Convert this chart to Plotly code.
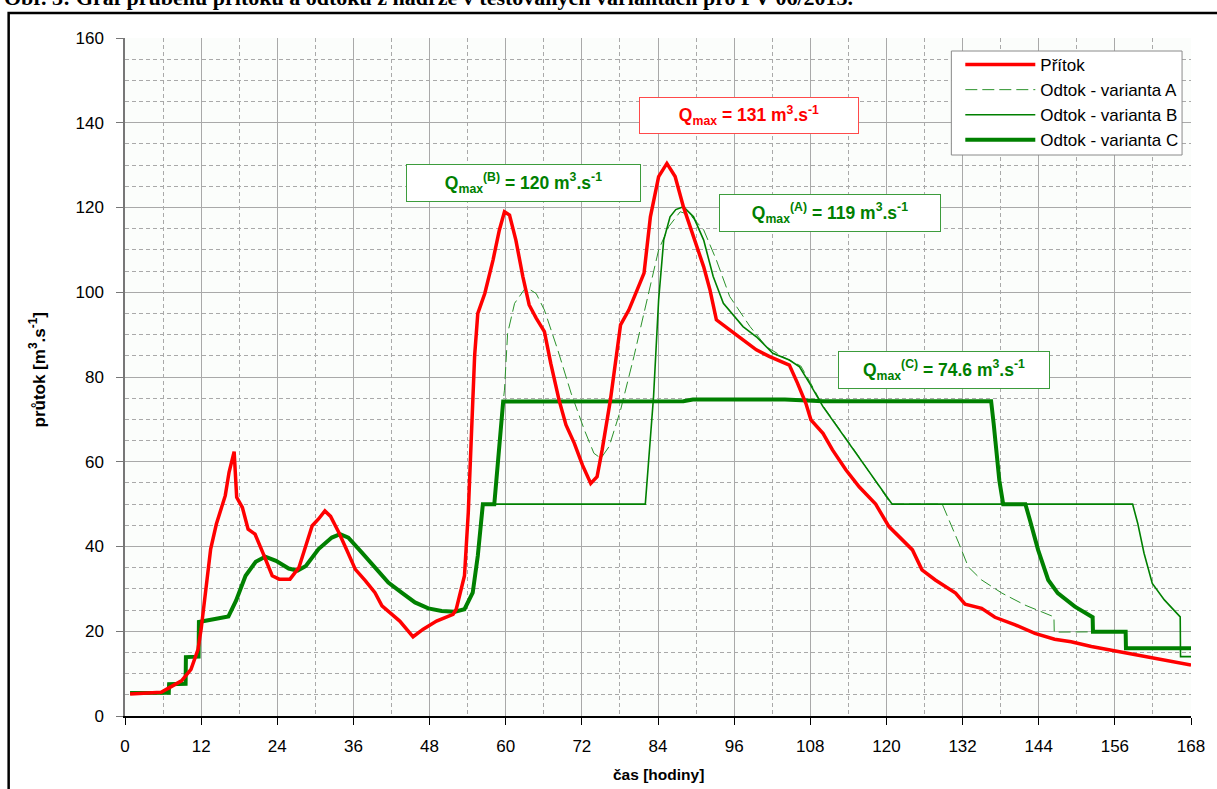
import plotly.graph_objects as go

# ---------------- data ----------------
# common outflow (all variants identical before ~56 h)
t_common = [0.8, 6.9, 6.95, 9.55, 9.6, 11.6, 11.65, 13.8, 16.3, 17.5, 19.0, 20.6, 22.1, 23.8, 25.8,
            27.2, 28.5, 30.5, 32.6, 33.9, 35.2, 37.3, 39.4, 41.5, 43.6, 45.7, 47.8, 49.9, 52.0,
            53.5, 54.8, 55.6, 56.4, 58.2]
q_common = [5.4, 5.5, 7.5, 7.6, 13.9, 14.0, 22.2, 22.7, 23.5, 27.2, 33.1, 36.4, 37.6, 36.6, 34.8,
            34.3, 35.4, 39.4, 42.1, 42.9, 42.1, 38.6, 35.0, 31.5, 29.1, 26.8, 25.4, 24.8, 24.6,
            25.2, 29.1, 37.8, 50.0, 50.0]

# variant C tail
t_c_tail = [59.6, 88.0, 89.5, 104.0, 110.0, 136.5, 136.9, 137.8, 138.4, 141.9, 142.6, 143.9, 145.5,
            147.0, 149.7, 152.5, 152.55, 157.7, 157.75, 168.0]
q_c_tail = [74.2, 74.3, 74.7, 74.7, 74.3, 74.3, 69.0, 55.5, 50.0, 50.0, 46.3, 39.2, 32.1,
            29.0, 25.8, 23.3, 19.9, 19.9, 16.0, 16.0]

# variant B tail
t_b_tail = [82.0, 83.3, 84.1, 84.9, 85.9, 86.8, 88.0, 89.6, 91.2, 92.7, 94.3, 97.4, 99.5, 102.1,
            104.7, 106.3, 107.9, 110.0, 112.6, 115.2, 117.8, 120.9, 158.8, 159.6, 160.6, 161.9,
            163.8, 166.3, 166.35, 168.0]
q_b_tail = [50.0, 75.4, 98.2, 112.3, 117.8, 119.5, 120.2, 117.8, 112.3, 103.7, 97.4, 91.9, 89.5, 85.6,
            84.0, 82.4, 78.5, 73.0, 67.5, 62.0, 56.5, 50.0, 50.0, 45.5, 38.4, 31.3,
            27.4, 23.4, 14.0, 14.0]

# variant A tail
t_a_tail = [59.6, 59.8, 60.3, 61.4, 63.2, 64.8, 66.1, 68.2, 70.3, 72.4, 73.9, 75.0, 76.3, 78.1, 80.2,
            82.3, 84.1, 85.7, 87.5, 89.1, 91.2, 93.2, 95.3, 98.5, 101.1, 104.0, 106.5, 108.0, 110.0,
            115.2, 120.5, 121.0, 128.8, 131.4, 132.9, 135.0, 138.2, 141.8, 145.7, 146.4, 146.45,
            152.5, 157.7, 157.75, 168.0]
q_a_tail = [74.2, 76.9, 90.3, 97.4, 101.2, 99.7, 95.8, 86.4, 76.2, 67.5, 62.0, 60.8, 63.6, 72.2, 84.8,
            98.2, 110.0, 115.5, 119.0, 118.2, 114.7, 107.6, 99.0, 91.9, 87.1, 84.5, 82.6, 78.7, 73.2,
            62.2, 50.5, 50.0, 50.0, 40.8, 35.2, 32.1, 29.0, 26.2, 23.8, 23.4, 19.8,
            19.8, 19.9, 16.0, 16.0]

# inflow
t_in = [0.8, 5.7, 7.0, 8.9, 10.4, 11.5, 12.0, 12.8, 13.5, 14.4, 15.8, 16.4, 17.2, 17.6, 18.5, 19.4,
        20.5, 21.7, 23.2, 24.3, 26.0, 27.4, 29.5, 30.5, 31.5, 32.4, 33.7, 35.0, 36.3, 37.9, 39.4,
        40.5, 42.0, 43.3, 45.4, 47.0, 49.1, 51.7, 52.2, 53.5, 54.1, 54.6, 55.1, 55.6, 56.7, 58.0,
        59.0, 59.8, 60.6, 61.6, 62.7, 63.7, 64.8, 66.1, 67.1, 68.4, 69.5, 70.8, 72.1, 73.4, 74.4,
        75.2, 76.5, 78.1, 79.4, 80.7, 81.8, 82.8, 84.1, 85.4, 86.7, 88.0, 89.6, 91.2, 92.2, 93.2,
        96.4, 99.5, 101.6, 102.6, 104.7, 106.0, 107.3, 108.1, 110.0, 111.5, 113.6, 115.7, 118.3,
        120.4, 123.0, 124.1, 125.6, 127.7, 130.9, 132.4, 135.0, 137.1, 140.3, 143.4, 146.5, 149.1,
        152.3, 157.5, 162.7, 168.0]
q_in = [5.2, 5.6, 6.7, 8.3, 11.0, 15.7, 20.5, 29.9, 39.4, 45.3, 52.0, 57.5, 62.4, 51.6, 49.2, 44.1,
        42.9, 38.6, 33.1, 32.3, 32.3, 35.0, 44.9, 46.5, 48.4, 47.1, 43.3, 39.0, 34.6, 31.9, 29.1,
        26.0, 24.0, 22.4, 18.7, 20.5, 22.4, 24.0, 25.2, 33.1, 48.0, 67.7, 85.0, 95.0, 99.7, 107.6,
        114.7, 119.0, 118.2, 112.3, 103.7, 97.0, 93.9, 90.7, 83.2, 74.6, 68.7, 64.4, 59.2, 54.9, 56.5,
        62.8, 74.6, 92.3, 95.8, 100.5, 104.5, 117.8, 127.3, 130.4, 127.3, 120.2, 113.1, 106.0, 100.5, 93.5,
        89.9, 86.4, 84.8, 84.2, 82.8, 78.5, 73.8, 69.9, 66.7, 62.8, 58.1, 54.1, 50.0,
        44.7, 40.8, 39.2, 34.5, 32.1, 29.0, 26.4, 25.4, 23.3, 21.5, 19.5, 18.1, 17.5,
        16.4, 14.9, 13.6, 12.0]

x_ticks = list(range(0, 169, 12))
y_ticks = list(range(0, 161, 20))

names = ["Přítok", "Odtok - varianta A", "Odtok - varianta B", "Odtok - varianta C"]
title_text = "Obr. 3: Graf průběhu přítoku a odtoku z nádrže v testovaných variantách pro PV 06/2013."

# ---------------- layout helpers ----------------
W, H = 1217, 789
L, R, T, B = 125, 20, 38, 73
PW, PH = W - L - R, H - T - B


def px(x, y):
    return (x - L) / PW, (H - B - y) / PH


RED = "#ff0000"
GREEN = "#008000"
FONT = "Liberation Sans, Arial, sans-serif"

fig = go.Figure()
fig.add_trace(go.Scatter(x=t_common + t_a_tail, y=q_common + q_a_tail, mode="lines", name=names[1],
                         line=dict(color="#2a922a", width=1, dash="12px,5px"), legendrank=2,
                         legendgroup="a"))
fig.add_trace(go.Scatter(x=t_common + t_b_tail, y=q_common + q_b_tail, mode="lines", name=names[2],
                         line=dict(color=GREEN, width=1.6), legendrank=3, legendgroup="b"))
fig.add_trace(go.Scatter(x=t_common + t_c_tail, y=q_common + q_c_tail, mode="lines", name=names[3],
                         line=dict(color=GREEN, width=4), legendrank=4, legendgroup="c"))
fig.add_trace(go.Scatter(x=t_in, y=q_in, mode="lines", name=names[0],
                         line=dict(color=RED, width=3.5), legendrank=1, legendgroup="r"))

gridc = "#a9a9a9"
fig.update_xaxes(range=[0, 168], tickvals=x_ticks, ticks="outside", ticklen=7, tickcolor="#000",
                 showline=True, linecolor="#000", linewidth=1.5, showgrid=True, gridcolor=gridc,
                 gridwidth=1, zeroline=False, tickfont=dict(family=FONT, size=17, color="#000"),
                 ticklabelstandoff=7,
                 minor=dict(dtick=6, tick0=0, showgrid=True, gridcolor=gridc, griddash="4px,3px",
                            gridwidth=1, ticks=""))
fig.update_yaxes(range=[0, 160], tickvals=y_ticks, ticks="outside", ticklen=7, tickcolor="#777",
                 showline=True, linecolor="#777", linewidth=1.5, showgrid=True, gridcolor=gridc,
                 gridwidth=1, zeroline=False, tickfont=dict(family=FONT, size=17, color="#000"),
                 ticklabelstandoff=9,
                 minor=dict(dtick=5, tick0=0, showgrid=True, gridcolor=gridc, griddash="4px,3px",
                            gridwidth=1, ticks=""))

# legend frame (drawn as a white box, the legend itself is transparent on top of it)
bx0, by0 = px(956, 51)
bx1, by1 = px(1188, 155)
fig.add_shape(type="rect", xref="paper", yref="paper", x0=bx0, y0=by1, x1=bx1, y1=by0,
              line=dict(color="#8a8a8a", width=1), fillcolor="#ffffff", layer="above")

lx, ly = px(965, 47)
fig.update_layout(
    width=W, height=H, margin=dict(l=L, r=R, t=T, b=B, pad=0),
    paper_bgcolor="#ffffff", plot_bgcolor="#fbfdfb",
    showlegend=True,
    legend=dict(x=lx, y=ly, xanchor="left", yanchor="top", bgcolor="rgba(0,0,0,0)",
                borderwidth=0, tracegroupgap=0, itemwidth=70,
                font=dict(family=FONT, size=17, color="#000")),
)

# annotation boxes
boxes = [
    ("<b>Q<sub>max</sub> = 131 m<sup>3</sup>.s<sup>-1</sup></b>", 753, 115, 220, 37, RED, "#ff4a4a"),
    ("<b>Q<sub>max</sub><sup>(B)</sup> = 120 m<sup>3</sup>.s<sup>-1</sup></b>", 526, 183, 235, 38, GREEN, "#3c9c3c"),
    ("<b>Q<sub>max</sub><sup>(A)</sup> = 119 m<sup>3</sup>.s<sup>-1</sup></b>", 834, 213, 222, 38, GREEN, "#3c9c3c"),
    ("<b>Q<sub>max</sub><sup>(C)</sup> = 74.6 m<sup>3</sup>.s<sup>-1</sup></b>", 949, 370, 212, 38, GREEN, "#3c9c3c"),
]
for txt, cx, cy, bw, bh, col, bcol in boxes:
    ax, ay = px(cx, cy)
    fig.add_annotation(x=ax, y=ay, xref="paper", yref="paper", text=txt, showarrow=False,
                       xanchor="center", yanchor="middle", width=bw - 6, height=bh - 6,
                       borderpad=2, borderwidth=1, bordercolor=bcol, bgcolor="#ffffff",
                       font=dict(family=FONT, size=17.5, color=col))

# axis titles
ax, ay = px(661, 774)
fig.add_annotation(x=ax, y=ay, xref="paper", yref="paper", text="<b>čas [hodiny]</b>", showarrow=False,
                   xanchor="center", yanchor="middle", font=dict(family=FONT, size=15.5, color="#000"))
ax, ay = px(37, 370)
fig.add_annotation(x=ax, y=ay, xref="paper", yref="paper", text="<b>průtok [m<sup>3</sup>.s<sup>-1</sup>]</b>",
                   showarrow=False, textangle=-90, xanchor="center", yanchor="middle",
                   font=dict(family=FONT, size=17, color="#000"))

# cut-off caption at the very top
ax, ay = px(2, 11)
fig.add_annotation(x=ax, y=ay, xref="paper", yref="paper", text="<b>" + title_text + "</b>",
                   showarrow=False, xanchor="left", yanchor="bottom", borderpad=0,
                   font=dict(family="Liberation Serif, Times New Roman, serif", size=22, color="#000"))

# outer black frame
x0, y0 = px(8, 13)
x1, y1 = px(W + 20, H + 20)
fig.add_shape(type="rect", xref="paper", yref="paper", x0=x0, y0=y1, x1=x1, y1=y0,
              line=dict(color="#000", width=2.5), layer="below")

fig.write_html("out.html", config={"displayModeBar": False},
               post_script="document.body.style.margin='0';")
